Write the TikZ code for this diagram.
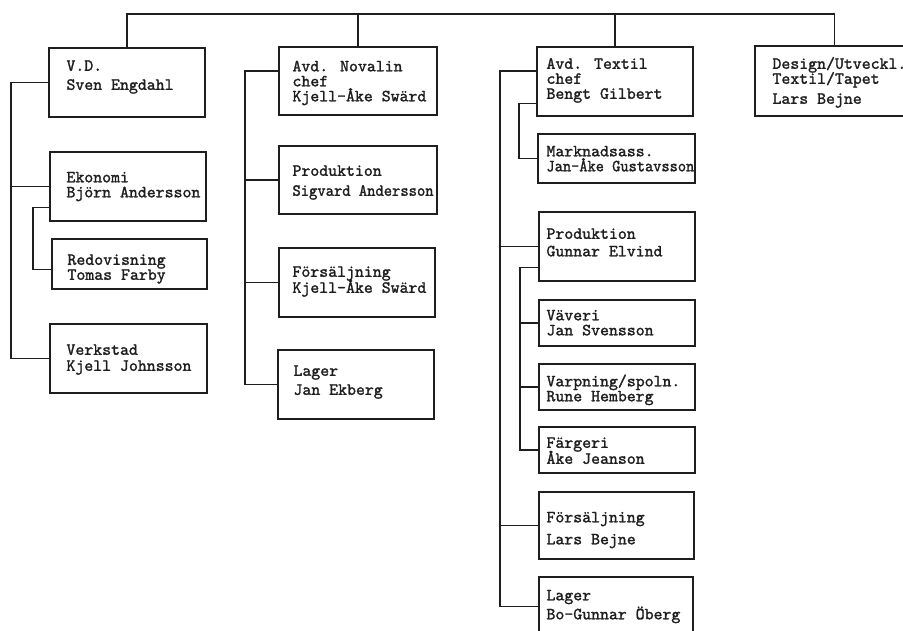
\documentclass[tikz,border=0pt]{standalone}
\usepackage{fontspec}
\newfontfamily\tw{lmmono10-regular.otf}[FakeBold=1.5]
\usetikzlibrary{calc}
\definecolor{ink}{HTML}{1E1E1E}
\newcommand\TBlk[1]{\vtop{\baselineskip=15pt\lineskiplimit=-100pt\lineskip=0pt\relax #1}}
\newcommand\TLine[1]{\hbox{#1}}
\newcommand\TGap[1]{\vskip#1\relax}
\tikzset{
  box/.style={draw=ink, line width=1.4pt, rectangle, inner sep=0pt},
  txt/.style={anchor=base west, inner sep=0pt, text=ink, font=\tw\fontsize{17}{15}\selectfont},
  link/.style={draw=ink, line width=1.4pt},
}
\begin{document}
\begin{tikzpicture}[x=1pt,y=-1pt]
\useasboundingbox (0,0) rectangle (903,631);
\clip (0,0) rectangle (903,631);
\fill[white] (0,0) rectangle (903,631);

% boxes
\node[box,minimum width=156pt,minimum height=69pt] (vd)  at (127,82.5) {};
\node[box,minimum width=156pt,minimum height=69pt] (eko) at (128,186.5) {};
\node[box,minimum width=155pt,minimum height=50pt] (red) at (129.5,264) {};
\node[box,minimum width=157pt,minimum height=69pt] (ver) at (128.5,358.5) {};
\node[box,minimum width=158pt,minimum height=68pt] (nov) at (358,81) {};
\node[box,minimum width=158pt,minimum height=68pt] (prs) at (358,180) {};
\node[box,minimum width=156pt,minimum height=69pt] (fsk) at (357,282.5) {};
\node[box,minimum width=156pt,minimum height=69pt] (lgj) at (356,384.5) {};
\node[box,minimum width=156pt,minimum height=69pt] (tex) at (615,81.5) {};
\node[box,minimum width=205pt,minimum height=70pt] (des) at (857.5,81) {};
\node[box,minimum width=157pt,minimum height=49pt] (mkn) at (616.5,158.5) {};
\node[box,minimum width=156pt,minimum height=69pt] (prg) at (617,246.5) {};
\node[box,minimum width=156pt,minimum height=46pt] (vav) at (617,323) {};
\node[box,minimum width=156pt,minimum height=46pt] (var) at (617,387) {};
\node[box,minimum width=156pt,minimum height=46pt] (far) at (617,450) {};
\node[box,minimum width=155pt,minimum height=67pt] (fsl) at (616.5,525.5) {};
\node[box,minimum width=154pt,minimum height=73pt] (lgb) at (616,613.5) {};

% texts
\node[txt] (vdt)  at ([xshift=18pt,yshift=-23.5pt]vd.north west)  {\TBlk{\TLine{V.D.}\TGap{4pt}\TLine{Sven Engdahl}}};
\node[txt] (ekot) at ([xshift=17pt,yshift=-31pt]eko.north west)   {\TBlk{\TLine{Ekonomi}\TLine{Björn Andersson}}};
\node[txt] (redt) at ([xshift=16pt,yshift=-26.5pt]red.north west) {\TBlk{\TLine{Redovisning}\TLine{Tomas Farby}}};
\node[txt] (vert) at ([xshift=17pt,yshift=-31.5pt]ver.north west) {\TBlk{\TLine{Verkstad}\TGap{1pt}\TLine{Kjell Johnsson}}};
\node[txt] (novt) at ([xshift=14pt,yshift=-25pt]nov.north west)   {\TBlk{\TLine{Avd. Novalin}\TLine{chef}\TLine{Kjell-Åke Swärd}}};
\node[txt] (prst) at ([xshift=14pt,yshift=-30.5pt]prs.north west) {\TBlk{\TLine{Produktion}\TGap{5pt}\TLine{\scalebox{0.93}[1]{Sigvard Andersson}}}};
\node[txt] (fskt) at ([xshift=14pt,yshift=-29.5pt]fsk.north west) {\TBlk{\TLine{Försäljning}\TGap{1pt}\TLine{Kjell-Åke Swärd}}};
\node[txt] (lgjt) at ([xshift=16pt,yshift=-26.5pt]lgj.north west) {\TBlk{\TLine{Lager}\TGap{4pt}\TLine{Jan Ekberg}}};
\node[txt] (text) at ([xshift=10pt,yshift=-22.5pt]tex.north west) {\TBlk{\TLine{Avd. Textil}\TLine{chef}\TLine{Bengt Gilbert}}};
\node[txt] (dest) at ([xshift=18pt,yshift=-23.5pt]des.north west) {\TBlk{\TLine{Design/Utveckl.}\TLine{Textil/Tapet}\TGap{5pt}\TLine{Lars Bejne}}};
\node[txt] (mknt) at ([xshift=9pt,yshift=-23pt]mkn.north west)    {\TBlk{\TLine{Marknadsass.}\TLine{\scalebox{0.92}[1]{Jan-Åke Gustavsson}}}};
\node[txt] (prgt) at ([xshift=8pt,yshift=-27.5pt]prg.north west)  {\TBlk{\TLine{Produktion}\TGap{2.5pt}\TLine{Gunnar Elvind}}};
\node[txt] (vavt) at ([xshift=8pt,yshift=-21pt]vav.north west)    {\TBlk{\TLine{Väveri}\TLine{Jan Svensson}}};
\node[txt] (vart) at ([xshift=8pt,yshift=-23pt]var.north west)    {\TBlk{\TLine{Varpning/spoln.}\TLine{Rune Hemberg}}};
\node[txt] (fart) at ([xshift=8pt,yshift=-21.5pt]far.north west)  {\TBlk{\TLine{Färgeri}\TGap{1pt}\TLine{Åke Jeanson}}};
\node[txt] (fslt) at ([xshift=8pt,yshift=-31pt]fsl.north west)    {\TBlk{\TLine{Försäljning}\TGap{7pt}\TLine{Lars Bejne}}};
\node[txt] (lgbt) at ([xshift=8pt,yshift=-24pt]lgb.north west)    {\TBlk{\TLine{Lager}\TGap{4pt}\TLine{Bo-Gunnar Öberg}}};

% helper coordinates
\coordinate (topy) at (0,14);
\coordinate (lb) at (11,0);
\coordinate (eb) at (33,0);
\coordinate (nb) at (245,0);
\coordinate (tb) at (500,0);
\coordinate (mb) at (519,0);
\coordinate (pb) at (520,0);
\coordinate (dc) at ([xshift=80pt]des.north west);

% top level
\draw[link] (vd.north) |- (dc |- topy) -- (dc);
\draw[link] (nov.north) -- (nov.north |- topy);
\draw[link] (tex.north) -- (tex.north |- topy);

% V.D. column
\draw[link] (vd.west) -| (lb |- ver.west) -- (ver.west);
\draw[link] (eko.west) -- (eko.west -| lb);
\coordinate (e1) at ([yshift=14pt]eko.south west);
\coordinate (r1) at ([yshift=20pt]red.south west);
\draw[link] (e1) -| (eb |- r1) -- (r1);

% Novalin column
\coordinate (n1) at ([yshift=10pt]nov.west);
\draw[link] (n1) -| (nb |- lgj.west) -- (lgj.west);
\draw[link] (prs.west) -- (prs.west -| nb);
\draw[link] (fsk.west) -- (fsk.west -| nb);

% Textil column
\coordinate (t1) at ([yshift=10.5pt]tex.west);
\coordinate (l1) at ([yshift=-30pt]lgb.north west);
\draw[link] (t1) -| (tb |- l1) -- (l1);
\draw[link] (prg.west) -- (prg.west -| tb);
\draw[link] (fsl.west) -- (fsl.west -| tb);
\coordinate (t2) at ([yshift=13pt]tex.south west);
\draw[link] (t2) -| (mb |- mkn.west) -- (mkn.west);
\coordinate (p1) at ([yshift=14pt]prg.south west);
\draw[link] (p1) -| (pb |- far.west) -- (far.west);
\draw[link] (vav.west) -- (vav.west -| pb);
\draw[link] (var.west) -- (var.west -| pb);
\end{tikzpicture}
\end{document}
